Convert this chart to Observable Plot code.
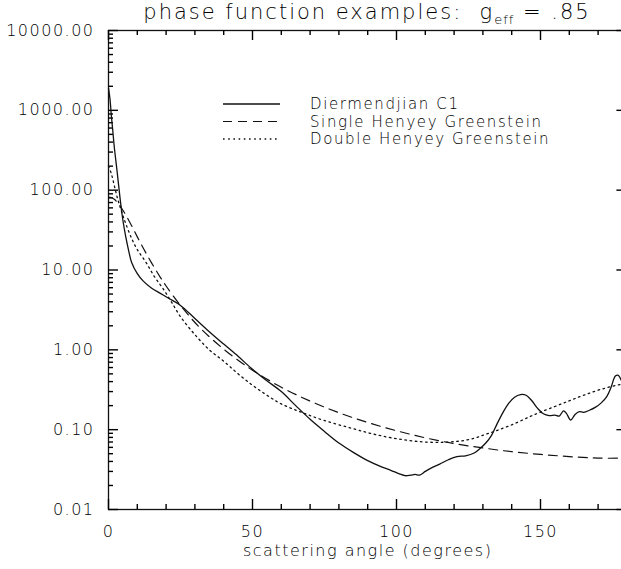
<!DOCTYPE html>
<html>
<head>
<meta charset="utf-8">
<script src="https://cdn.jsdelivr.net/npm/d3@7"></script>
<script src="https://cdn.jsdelivr.net/npm/@observablehq/plot@0.6"></script>
<style>
html, body { margin: 0; padding: 0; background: #fff; overflow: hidden; }
#wrap { position: relative; width: 621px; height: 569px; font-family: "DejaVu Sans", sans-serif; }
#title { position: absolute; left: 108px; width: 518px; top: 2px; text-align: center;
  font-size: 21px; line-height: 21px; letter-spacing: 2px; font-weight: 200; color: #000; white-space: nowrap; }
#title sub { font-size: 0.62em; vertical-align: -0.35em; letter-spacing: 1px; }
#overlay { position: absolute; left: 0; top: 0; pointer-events: none; }
</style>
</head>
<body>
<div id="wrap">
  <div id="chart"></div>
  <div id="title">phase function examples:&nbsp; g<sub>eff</sub> = .85</div>
  <svg id="overlay" width="621" height="569"></svg>
</div>
<script>
// ---- data ----
const seriesNames = ["Diermendjian C1", "Single Henyey Greenstein", "Double Henyey Greenstein"];

const solidAngle = [0,0.5,1,1.5,2,3,4,5,6,7,8,10,12,15,18,21,25,30,35,40,45,50,55,60,65,70,75,80,85,90,95,98,101,103,105,106.5,108,110,112,115,118,121,124,127,129,131,133,135,137,139,141,143,145,147,149,151,153,155,156.5,158,159,160.5,162,163.5,165,167,169,171,173,174.5,176,177,178,179,180];
const solidValue = [1900,1400,850,550,350,170,80,42,26,17.5,12.5,9.0,7.3,5.9,5.1,4.4,3.6,2.47,1.69,1.18,0.83,0.57,0.41,0.30,0.20,0.135,0.095,0.068,0.052,0.041,0.034,0.031,0.028,0.0265,0.027,0.0275,0.027,0.030,0.033,0.037,0.042,0.046,0.047,0.051,0.058,0.068,0.085,0.12,0.165,0.215,0.255,0.275,0.27,0.23,0.185,0.158,0.150,0.152,0.148,0.172,0.16,0.132,0.155,0.168,0.165,0.175,0.19,0.215,0.26,0.34,0.47,0.48,0.42,0.35,0.30];

const dashAngle = [0,1,2,3,4,5,6,8,10,12,15,18,20,25,30,35,40,45,50,60,70,80,90,100,110,120,130,140,150,160,170,180];
const dashValue = [82,81,77,71,64,56,49,36,26,19,12.2,8.1,6.3,3.6,2.2,1.46,1.02,0.74,0.555,0.34,0.228,0.163,0.123,0.097,0.079,0.067,0.059,0.053,0.049,0.046,0.044,0.044];

const dotAngle = [0,1,2,3,4,5,6,8,10,13,16,19,22,25,30,35,40,45,50,55,60,67,75,84,92,101,110,118,125,132,140,148,155,160,165,171,178,180];
const dotValue = [200,160,115,82,62,48,38,25,18,12.5,8.2,5.8,3.9,2.6,1.55,1.0,0.72,0.50,0.36,0.27,0.21,0.165,0.13,0.105,0.088,0.076,0.070,0.070,0.075,0.090,0.115,0.155,0.195,0.23,0.27,0.32,0.37,0.38];

const xMajor = [0, 50, 100, 150];
const xMinor = [10,20,30,40,60,70,80,90,110,120,130,140,160,170];
const yMajor = [0.01, 0.1, 1, 10, 100, 1000, 10000];
const xLabel = "scattering angle (degrees)";

// ---- layout ----
const W = 621, H = 569;
const mL = 108, mT = 30, mB = 60, mR = -5.4;
const frameW = W - mL - mR, frameH = H - mT - mB;
const ink = "#000";
const xDom = [0, 180], yDom = [0.01, 10000];

const yMinor = [];
for (let i = 0; i < yMajor.length - 1; i++) for (let k = 2; k <= 9; k++) yMinor.push(yMajor[i] * k);

// inward tick lengths (pixels) expressed in scale units
const decades = Math.log10(yDom[1] / yDom[0]);
const yFac = len => Math.pow(10, decades * len / frameH);
const xOff = len => (xDom[1] - xDom[0]) * len / frameW;
const MAJ = 10, MIN = 5;

const toRows = (a, v) => a.map((x, i) => ({x, y: v[i]}));
const solid = toRows(solidAngle, solidValue);
const dash = toRows(dashAngle, dashValue);
const dot = toRows(dotAngle, dotValue);

const styles = [
  {dasharray: null, width: 1.3},
  {dasharray: "9,6", width: 1.2},
  {dasharray: "1.6,3.6", width: 1.3}
];
const tk = {stroke: ink, strokeWidth: 1.4};

const chart = Plot.plot({
  width: W, height: H,
  marginLeft: mL, marginTop: mT, marginBottom: mB, marginRight: mR,
  style: {fontFamily: "DejaVu Sans, sans-serif", fontSize: "16px", letterSpacing: "1.5px", fontWeight: 200, color: "#000", background: "#fff"},
  x: {domain: xDom},
  y: {type: "log", domain: yDom},
  marks: [
    Plot.frame({stroke: "#111", strokeWidth: 1.3, fill: "none"}),
    Plot.axisY(yMajor, {tickSize: 0, tickPadding: 14, tickFormat: d3.format(".2f"), label: null, fill: "#000"}),
    Plot.axisX(xMajor, {tickSize: 0, tickPadding: 16, label: null, fill: "#000"}),
    Plot.text([xLabel], {frameAnchor: "bottom", dy: 46, text: d => d, fontSize: 16, fill: "#000"}),
    // inward ticks on all four sides
    Plot.ruleX(xMajor, {x: d => d, y1: yDom[0], y2: yDom[0] * yFac(MAJ), ...tk}),
    Plot.ruleX(xMinor, {x: d => d, y1: yDom[0], y2: yDom[0] * yFac(MIN), ...tk}),
    Plot.ruleX(xMajor, {x: d => d, y1: yDom[1], y2: yDom[1] / yFac(MAJ), ...tk}),
    Plot.ruleX(xMinor, {x: d => d, y1: yDom[1], y2: yDom[1] / yFac(MIN), ...tk}),
    Plot.ruleY(yMajor, {y: d => d, x1: xDom[0], x2: xDom[0] + xOff(MAJ), ...tk}),
    Plot.ruleY(yMinor, {y: d => d, x1: xDom[0], x2: xDom[0] + xOff(MIN), ...tk}),
    Plot.ruleY(yMajor, {y: d => d, x1: xDom[1], x2: xDom[1] - xOff(MAJ), ...tk}),
    Plot.ruleY(yMinor, {y: d => d, x1: xDom[1], x2: xDom[1] - xOff(MIN), ...tk}),
    Plot.line(solid, {x: "x", y: "y", stroke: "#111", strokeWidth: styles[0].width, curve: "catmull-rom"}),
    Plot.line(dash, {x: "x", y: "y", stroke: "#111", strokeWidth: styles[1].width, strokeDasharray: styles[1].dasharray, curve: "catmull-rom"}),
    Plot.line(dot, {x: "x", y: "y", stroke: "#111", strokeWidth: styles[2].width, strokeDasharray: styles[2].dasharray, curve: "catmull-rom"})
  ]
});
document.getElementById("chart").appendChild(chart);

// ---- legend ----
const ov = d3.select("#overlay");
const lgX0 = 223, lgX1 = 280, lgTx = 310, lgY0 = 104, lgDy = 17.5;
seriesNames.forEach((name, i) => {
  const y = lgY0 + i * lgDy;
  ov.append("line").attr("x1", lgX0).attr("x2", lgX1).attr("y1", y).attr("y2", y)
    .attr("stroke", "#111").attr("stroke-width", styles[i].width)
    .attr("stroke-dasharray", styles[i].dasharray);
  ov.append("text").attr("x", lgTx).attr("y", y).attr("dy", "0.36em")
    .attr("font-family", "DejaVu Sans, sans-serif").attr("font-size", 15)
    .attr("font-weight", 200).attr("letter-spacing", "1.6px").attr("fill", "#000")
    .text(name);
});
</script>
</body>
</html>
